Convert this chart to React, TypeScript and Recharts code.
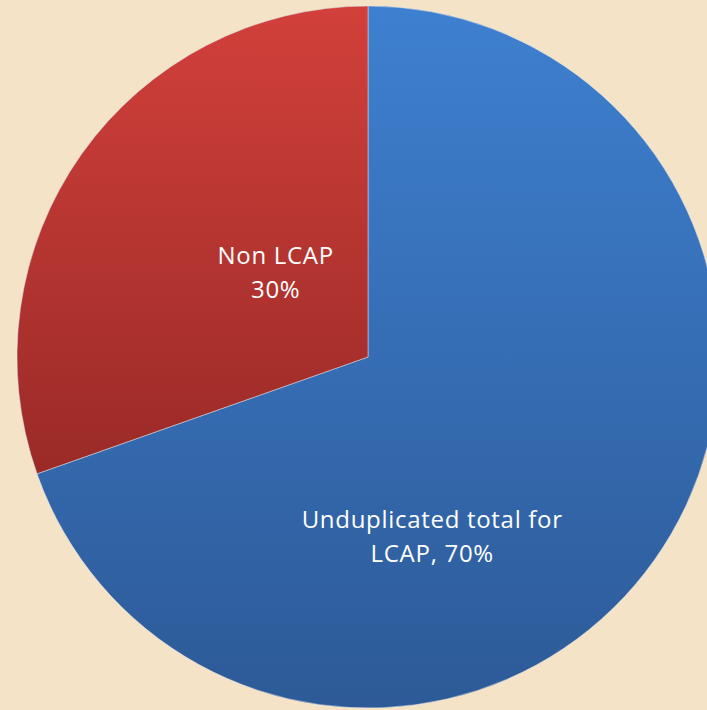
import React from "react";
import { PieChart, Pie, Cell } from "recharts";

const categories = ["Unduplicated total for LCAP", "Non LCAP"];
const shares = [69.6, 30.4];
const labelLines = [["Unduplicated total for", "LCAP, 70%"], ["Non LCAP", "30%"]];

const data = categories.map((name, i) => ({ name, value: shares[i] }));

const gradients = [
  { id: "gBlue", top: "#3E80D0", bottom: "#2D5A97" },
  { id: "gRed", top: "#D2403B", bottom: "#9A2A27" },
];

// label anchor offsets as fractions of outer radius (Excel best-fit placement)
const labelOffsets = [
  { fx: 0.183, fy: 0.486 },
  { fx: -0.263, fy: -0.264 },
];

const FONT = "'Open Sans', 'Liberation Sans', sans-serif";

const renderLabel = (props: any) => {
  const { cx, cy, outerRadius, index } = props;
  const off = labelOffsets[index];
  const x = cx + off.fx * outerRadius;
  const y = cy + off.fy * outerRadius;
  const lines = labelLines[index];
  return (
    <text x={x} y={y} fill="#ffffff" textAnchor="middle" fontFamily={FONT} fontSize={24} letterSpacing={0.7}>
      {lines.map((l, k) => (
        <tspan key={k} x={x} dy={k === 0 ? 0 : 34}>
          {l}
        </tspan>
      ))}
    </text>
  );
};

export default function App() {
  return (
    <div
      style={{
        position: "absolute",
        left: 0,
        top: 0,
        width: 707,
        height: 710,
        background: "#F4E3C7",
        overflow: "hidden",
      }}
    >
      <PieChart width={707} height={710} margin={{ top: 0, right: 0, bottom: 0, left: 0 }}>
        <defs>
          {gradients.map((g) => (
            <linearGradient key={g.id} id={g.id} x1="0" y1="0" x2="0" y2="1">
              <stop offset="0%" stopColor={g.top} />
              <stop offset="100%" stopColor={g.bottom} />
            </linearGradient>
          ))}
        </defs>
        <Pie
          data={data}
          dataKey="value"
          nameKey="name"
          cx={368}
          cy={357}
          outerRadius={351}
          startAngle={90}
          endAngle={-270}
          stroke="rgba(220,225,235,0.5)"
          strokeWidth={1}
          label={renderLabel}
          labelLine={false}
          isAnimationActive={false}
        >
          {data.map((d, i) => (
            <Cell key={d.name} fill={`url(#${gradients[i].id})`} />
          ))}
        </Pie>
      </PieChart>
    </div>
  );
}
